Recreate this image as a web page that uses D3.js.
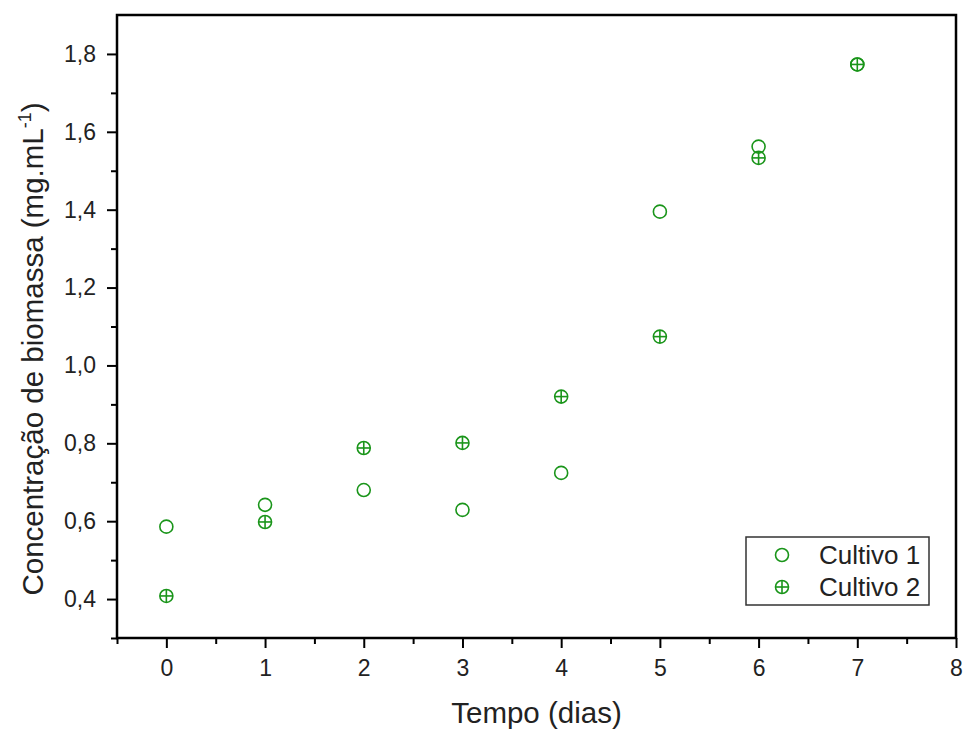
<!DOCTYPE html>
<html>
<head>
<meta charset="utf-8">
<script src="https://cdn.jsdelivr.net/npm/d3@7"></script>
<style>
  body { margin: 0; background: #fff; }
  text { font-family: "Liberation Sans", Arial, sans-serif; fill: #222; }
</style>
</head>
<body>
<div id="chart"></div>
<script>
// data
const days = [0, 1, 2, 3, 4, 5, 6, 7];
const cultivo1 = [0.586, 0.642, 0.680, 0.629, 0.724, 1.395, 1.562, 1.773];
const cultivo2 = [0.408, 0.598, 0.788, 0.801, 0.920, 1.074, 1.533, 1.773];
const seriesNames = ["Cultivo 1", "Cultivo 2"];
const xTicks = [0, 1, 2, 3, 4, 5, 6, 7, 8];
const yTicks = [0.4, 0.6, 0.8, 1.0, 1.2, 1.4, 1.6, 1.8];

const width = 966, height = 731;
const margin = { top: 15, right: 10, bottom: 93, left: 117 };
const green = "#1a951a";

const svg = d3.select("#chart")
    .append("svg")
    .attr("width", width)
    .attr("height", height);

const x = d3.scaleLinear()
    .domain([-0.5, 8])
    .range([margin.left, width - margin.right]);

const y = d3.scaleLinear()
    .domain([0.3, 1.9])
    .range([height - margin.bottom, margin.top]);

const fmt = d => d3.format(".1f")(d).replace(".", ",");

// minor ticks
svg.append("g")
    .attr("transform", `translate(0,${y.range()[0]})`)
    .call(d3.axisBottom(x).tickValues(d3.range(-0.5, 8, 0.5).filter(v => v % 1 !== 0)).tickSize(6).tickFormat(""))
    .call(g => g.select(".domain").remove())
    .call(g => g.selectAll("line").attr("stroke", "#000").attr("stroke-width", 2));

svg.append("g")
    .attr("transform", `translate(${x.range()[0]},0)`)
    .call(d3.axisLeft(y).tickValues(d3.range(0.3, 1.9, 0.2).map(v => +v.toFixed(1))).tickSize(6).tickFormat(""))
    .call(g => g.select(".domain").remove())
    .call(g => g.selectAll("line").attr("stroke", "#000").attr("stroke-width", 2));

// major ticks
svg.append("g")
    .attr("transform", `translate(0,${y.range()[0]})`)
    .call(d3.axisBottom(x).tickValues(xTicks).tickSize(10).tickPadding(12))
    .call(g => g.select(".domain").remove())
    .call(g => g.selectAll("line").attr("stroke", "#000").attr("stroke-width", 2))
    .call(g => g.selectAll("text").attr("font-size", 23).attr("fill", "#222")
        .style("font-family", "'Liberation Sans', Arial, sans-serif"));

svg.append("g")
    .attr("transform", `translate(${x.range()[0]},0)`)
    .call(d3.axisLeft(y).tickValues(yTicks).tickFormat(fmt).tickSize(10).tickPadding(11))
    .call(g => g.select(".domain").remove())
    .call(g => g.selectAll("line").attr("stroke", "#000").attr("stroke-width", 2))
    .call(g => g.selectAll("text").attr("font-size", 23).attr("fill", "#222")
        .style("font-family", "'Liberation Sans', Arial, sans-serif"));

// frame
svg.append("rect")
    .attr("x", x.range()[0])
    .attr("y", y.range()[1])
    .attr("width", x.range()[1] - x.range()[0])
    .attr("height", y.range()[0] - y.range()[1])
    .attr("fill", "none")
    .attr("stroke", "#000")
    .attr("stroke-width", 2.5);

// markers
const r = 6.5;
function openCircle(g) {
    g.append("circle").attr("r", r).attr("fill", "none")
        .attr("stroke", green).attr("stroke-width", 1.6);
}
function crossCircle(g) {
    openCircle(g);
    g.append("line").attr("x1", -r).attr("x2", r)
        .attr("stroke", green).attr("stroke-width", 1.6);
    g.append("line").attr("y1", -r).attr("y2", r)
        .attr("stroke", green).attr("stroke-width", 1.6);
}

svg.append("g").selectAll("g")
    .data(days.map((d, i) => [d, cultivo1[i]]))
    .join("g")
    .attr("transform", d => `translate(${x(d[0])},${y(d[1])})`)
    .each(function () { openCircle(d3.select(this)); });

svg.append("g").selectAll("g")
    .data(days.map((d, i) => [d, cultivo2[i]]))
    .join("g")
    .attr("transform", d => `translate(${x(d[0])},${y(d[1])})`)
    .each(function () { crossCircle(d3.select(this)); });

// legend
const legend = svg.append("g").attr("transform", "translate(746,537)");
legend.append("rect")
    .attr("width", 183).attr("height", 68)
    .attr("fill", "#fff").attr("stroke", "#333").attr("stroke-width", 1.5);
seriesNames.forEach((name, i) => {
    const row = legend.append("g").attr("transform", `translate(36,${18 + i * 32})`);
    if (i === 0) openCircle(row); else crossCircle(row);
    row.append("text").attr("x", 37).attr("dy", "0.36em")
        .attr("font-size", 26).text(name);
});

// axis titles
svg.append("text")
    .attr("x", (x.range()[0] + x.range()[1]) / 2)
    .attr("y", 723)
    .attr("text-anchor", "middle")
    .attr("font-size", 29.5)
    .text("Tempo (dias)");

const yt = svg.append("text")
    .attr("transform", `translate(43,349) rotate(-90)`)
    .attr("text-anchor", "middle")
    .attr("font-size", 29.5);
yt.append("tspan").text("Concentração de biomassa (mg.mL");
yt.append("tspan").attr("dy", -12).attr("font-size", 18).text("-1");
yt.append("tspan").attr("dy", 12).text(")");
</script>
</body>
</html>
